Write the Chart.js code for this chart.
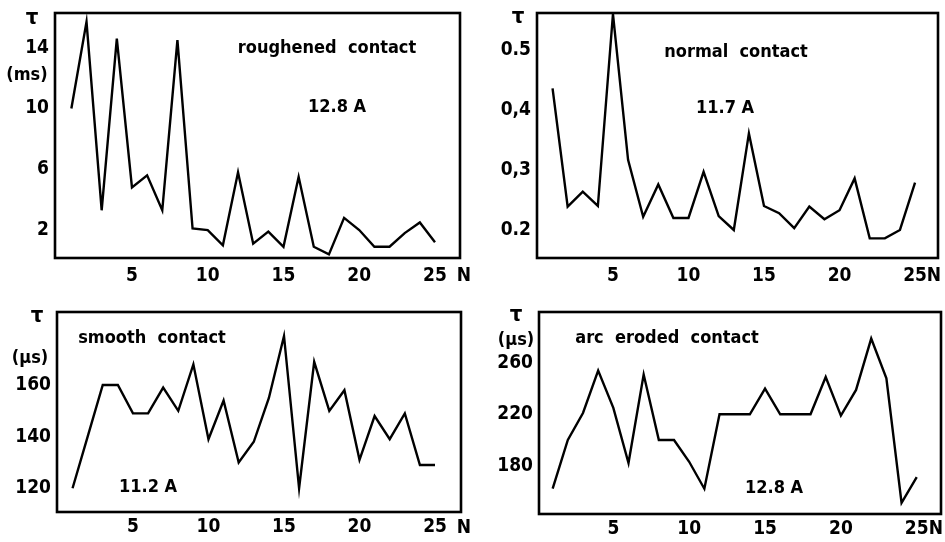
<!DOCTYPE html>
<html>
<head>
<meta charset="utf-8">
<title>Decay time vs. operation number</title>
<script src="https://cdn.jsdelivr.net/npm/chart.js@4.4.1/dist/chart.umd.min.js"></script>
<style>
  body { margin: 0; background: #fff; }
  #wrap { position: relative; width: 945px; height: 542px; }
  #wrap canvas { position: absolute; left: 0; top: 0; }
</style>
</head>
<body>
<div id="wrap">
  <canvas id="rough" width="945" height="542"></canvas>
  <canvas id="normal" width="945" height="542"></canvas>
  <canvas id="smooth" width="945" height="542"></canvas>
  <canvas id="arc" width="945" height="542"></canvas>
</div>
<script>
// operation number N
var cycles = [1, 2, 3, 4, 5, 6, 7, 8, 9, 10, 11, 12, 13, 14, 15, 16, 17, 18, 19, 20, 21, 22, 23, 24, 25];

// tau for each contact type
var roughened = [10, 15.7, 3.3, 14.6, 4.8, 5.6, 3.3, 14.5, 2.1, 2.0, 1.0, 5.8, 1.1, 1.9, 0.9, 5.5, 0.9, 0.4, 2.8, 2.0, 0.9, 0.9, 1.8, 2.5, 1.2];   // ms
var normal = [0.436, 0.239, 0.264, 0.24, 0.56, 0.317, 0.222, 0.276, 0.22, 0.22, 0.297, 0.223, 0.2, 0.361, 0.24, 0.228, 0.203, 0.239, 0.218, 0.233, 0.286, 0.186, 0.186, 0.2, 0.279];
var smooth = [120, 140, 160, 160, 149, 149, 159, 150, 168, 139, 154, 130, 138, 155, 179, 120, 169, 150, 158, 131, 148, 139, 149, 129, 129];   // us
var arcEroded = [162, 200, 221, 254, 225, 182, 251, 200, 200, 183, 162, 220, 220, 220, 240, 220, 220, 220, 249, 219, 239, 279, 248, 151, 171]; // us

// tick labels
var xTicks = [5, 10, 15, 20, 25];
var roughTicks = [2, 6, 10, 14];
var normalTicks = [0.2, 0.3, 0.4, 0.5];
var normalTickLabels = ['0.2', '0,3', '0,4', '0.5'];
var smoothTicks = [120, 140, 160];
var arcTicks = [180, 220, 260];

var FONT = '"DejaVu Sans Condensed", "DejaVu Sans", "Liberation Sans", sans-serif';

function makePanel(id, values, yTicks, yLabels, box, notes) {
  var pts = cycles.map(function (n, i) { return { x: n, y: values[i] }; });
  var yW = 50, xH = 40;

  // frame around the plot area, axis symbol and the in-plot captions
  var decor = {
    id: 'decor',
    afterDraw: function (chart) {
      var ctx = chart.ctx, a = chart.chartArea;
      ctx.save();
      ctx.strokeStyle = '#000';
      ctx.lineWidth = 2.6;
      ctx.strokeRect(a.left, a.top, a.right - a.left, a.bottom - a.top);
      ctx.fillStyle = '#000';
      ctx.textAlign = 'center';
      ctx.textBaseline = 'middle';
      notes.forEach(function (t) {
        ctx.font = 'bold ' + (t.size || 18) + 'px ' + FONT;
        ctx.fillText(t.text, t.x, t.y);
      });
      ctx.restore();
    }
  };

  return new Chart(document.getElementById(id), {
    type: 'line',
    data: {
      datasets: [{
        data: pts,
        borderColor: '#000',
        borderWidth: 2.4,
        pointRadius: 0,
        tension: 0,
        fill: false
      }]
    },
    options: {
      responsive: false,
      animation: false,
      events: [],
      layout: {
        padding: {
          left: box.left - yW,
          top: box.top,
          right: 945 - box.right,
          bottom: 542 - box.bottom - xH
        }
      },
      plugins: { legend: { display: false }, tooltip: { enabled: false } },
      scales: {
        x: {
          type: 'linear',
          min: box.xMin,
          max: box.xMax,
          grid: { display: false, drawTicks: false },
          border: { display: false },
          afterBuildTicks: function (s) { s.ticks = xTicks.map(function (v) { return { value: v }; }); },
          afterFit: function (s) { s.height = xH; s.paddingLeft = 0; s.paddingRight = 0; },
          ticks: { color: '#000', font: { family: FONT, size: 19, weight: 'bold' }, padding: box.xPad, maxRotation: 0 }
        },
        y: {
          min: box.yMin,
          max: box.yMax,
          grid: { display: false, drawTicks: false },
          border: { display: false },
          afterBuildTicks: function (s) { s.ticks = yTicks.map(function (v) { return { value: v }; }); },
          afterFit: function (s) { s.width = yW; s.paddingTop = 0; s.paddingBottom = 0; },
          ticks: {
            color: '#000',
            font: { family: FONT, size: 19, weight: 'bold' },
            padding: 6,
            callback: function (v, i) { return yLabels[i]; }
          }
        }
      }
    },
    plugins: [decor]
  });
}

makePanel('rough', roughened, roughTicks, roughTicks.map(String),
  { left: 55, top: 13, right: 460, bottom: 258, xMin: -0.08, xMax: 26.65, yMin: 0.16, yMax: 16.28, xPad: 7 },
  [
    { text: 'τ', x: 32, y: 18, size: 22 },
    { text: '(ms)', x: 27, y: 75 },
    { text: 'roughened  contact', x: 327, y: 48 },
    { text: '12.8 A', x: 337, y: 107 },
    { text: 'N', x: 464, y: 276, size: 19 }
  ]);

makePanel('normal', normal, normalTicks, normalTickLabels,
  { left: 537, top: 13, right: 938, bottom: 258, xMin: -0.03, xMax: 26.52, yMin: 0.1533, yMax: 0.5617, xPad: 7 },
  [
    { text: 'τ', x: 518, y: 17, size: 22 },
    { text: 'normal  contact', x: 736, y: 52 },
    { text: '11.7 A', x: 725, y: 108 },
    { text: 'N', x: 934, y: 276, size: 19 }
  ]);

makePanel('smooth', smooth, smoothTicks, smoothTicks.map(String),
  { left: 57, top: 312, right: 461, bottom: 512, xMin: -0.03, xMax: 26.72, yMin: 110.8, yMax: 188.3, xPad: 4 },
  [
    { text: 'τ', x: 37, y: 316, size: 22 },
    { text: '(μs)', x: 30, y: 358 },
    { text: 'smooth  contact', x: 152, y: 338 },
    { text: '11.2 A', x: 148, y: 487 },
    { text: 'N', x: 464, y: 528, size: 19 }
  ]);

makePanel('arc', arcEroded, arcTicks, arcTicks.map(String),
  { left: 539, top: 312, right: 941, bottom: 514, xMin: 0.10, xMax: 26.6, yMin: 142.3, yMax: 299.7, xPad: 4 },
  [
    { text: 'τ', x: 516, y: 315, size: 22 },
    { text: '(μs)', x: 516, y: 340 },
    { text: 'arc  eroded  contact', x: 667, y: 338 },
    { text: '12.8 A', x: 774, y: 488 },
    { text: 'N', x: 936, y: 529, size: 19 }
  ]);
</script>
</body>
</html>
